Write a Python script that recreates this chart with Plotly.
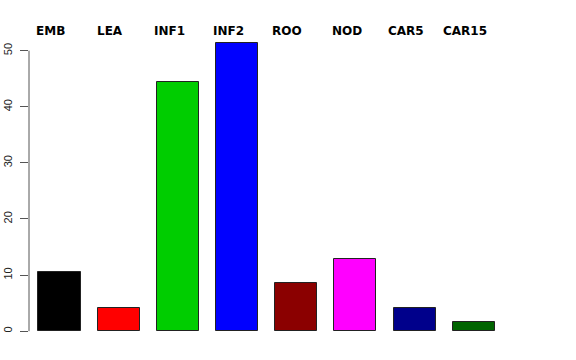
import plotly.graph_objects as go

categories = ["EMB", "LEA", "INF1", "INF2", "ROO", "NOD", "CAR5", "CAR15"]
values = [10.5, 4.2, 44.5, 51.4, 8.6, 12.8, 4.2, 1.7]
colors = ["#000000", "#FF0000", "#00CD00", "#0000FF", "#8B0000", "#FF00FF", "#00008B", "#006400"]
y_ticks = [0, 10, 20, 30, 40, 50]

W, H = 576, 360
px_per_x = 59.17
x0_px = 59.5
px_per_y = 5.606
y0_px = 331.0
left = 29
yr = [-0.5, 56.0]
b = H - y0_px - (0 - yr[0]) * px_per_y
plot_h = (yr[1] - yr[0]) * px_per_y
t = H - b - plot_h
xr = [(left - x0_px) / px_per_x, (W - x0_px) / px_per_x]

xs = list(range(len(categories)))

fig = go.Figure()
fig.add_trace(go.Bar(
    x=xs, y=values, width=0.71,
    marker=dict(color=colors, line=dict(color="#222222", width=1)),
    showlegend=False, hoverinfo="skip",
))

# y axis line from 0 to 50 only (R style)
fig.add_shape(type="line", xref="paper", yref="y", x0=0, x1=0,
              y0=y_ticks[0], y1=y_ticks[-1], line=dict(color="#555555", width=1))

# category labels on top, slightly left of bar centres
label_shift = -8.8 / px_per_x
label_y = (y0_px - 31.0) / px_per_y
for i, c in enumerate(categories):
    fig.add_annotation(x=xs[i] + label_shift, y=label_y, xref="x", yref="y",
                       text="<b>%s</b>" % c, showarrow=False,
                       font=dict(family="DejaVu Sans", size=12, color="#000000"),
                       xanchor="center", yanchor="middle")

fig.update_layout(
    width=W, height=H,
    margin=dict(l=left, r=0, t=t, b=b, pad=0),
    plot_bgcolor="white", paper_bgcolor="white",
    xaxis=dict(range=xr, visible=False, fixedrange=True),
    yaxis=dict(range=yr, tickvals=y_ticks, ticktext=[str(v) for v in y_ticks],
               showgrid=False, zeroline=False, showline=False,
               ticks="outside", ticklen=8, tickcolor="#555555", tickwidth=1,
               tickangle=-90, ticklabelstandoff=4,
               tickfont=dict(family="Liberation Sans, Arial", size=11, color="#222222")),
    bargap=0,
)

fig.write_html("out.html")
